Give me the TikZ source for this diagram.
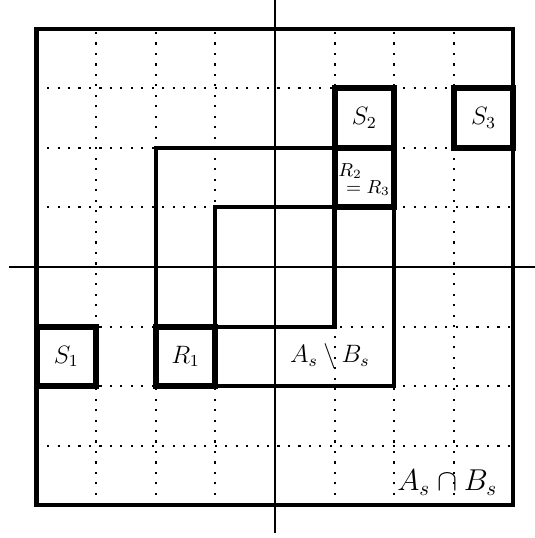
\documentclass[tikz,border=0pt]{standalone}
\usetikzlibrary{positioning}
\begin{document}
\begin{tikzpicture}[gridline/.style={line width=1pt,dash pattern=on 1pt off 4pt},
  region/.style={line width=2pt},
  cellbox/.style={line width=2.8pt},
  lab/.style={font=\large}]
\useasboundingbox (-4.614,-4.547) rectangle (4.362,4.48);
% dotted grid
\foreach \i in {-3,...,3} {
  \draw[gridline] (\i,-4) -- (\i,4);
  \draw[gridline] (-4,\i) -- (4,\i);
}
% axes
\draw[line width=0.9pt] (-4.46,0) -- (4.362,0);
\draw[line width=0.9pt] (0,-4.46) -- (0,4.48);
% regions
\draw[region] (-4,-4) rectangle (4,4);
\draw[region] (-2,-2) rectangle (2,2);
\draw[region] (-1,-1) rectangle (1,1);
% marked cells
\draw[cellbox] (-4,-2) rectangle (-3,-1);
\draw[cellbox] (-2,-2) rectangle (-1,-1);
\draw[cellbox] (1,2) rectangle (2,3);
\draw[cellbox] (3,2) rectangle (4,3);
\draw[cellbox] (1,1) rectangle (2,2);
\node[lab] (s1) at (-3.5,-1.5) {$S_1$};
\node[lab] (r1) at (-1.5,-1.5) {$R_1$};
\node[lab] (s2) at (1.5,2.5) {$S_2$};
\node[lab] (s3) at (3.5,2.5) {$S_3$};
\node[font=\small] (r2) at (1.26,1.61) {$R_2$};
\node[font=\small] (r3) at (1.56,1.33) {$=R_3$};
\node[lab] (diff) at (0.92,-1.5) {$A_s\setminus B_s$};
\node[font=\Large] (both) at (2.89,-3.62) {$A_s\cap B_s$};
\end{tikzpicture}
\end{document}
